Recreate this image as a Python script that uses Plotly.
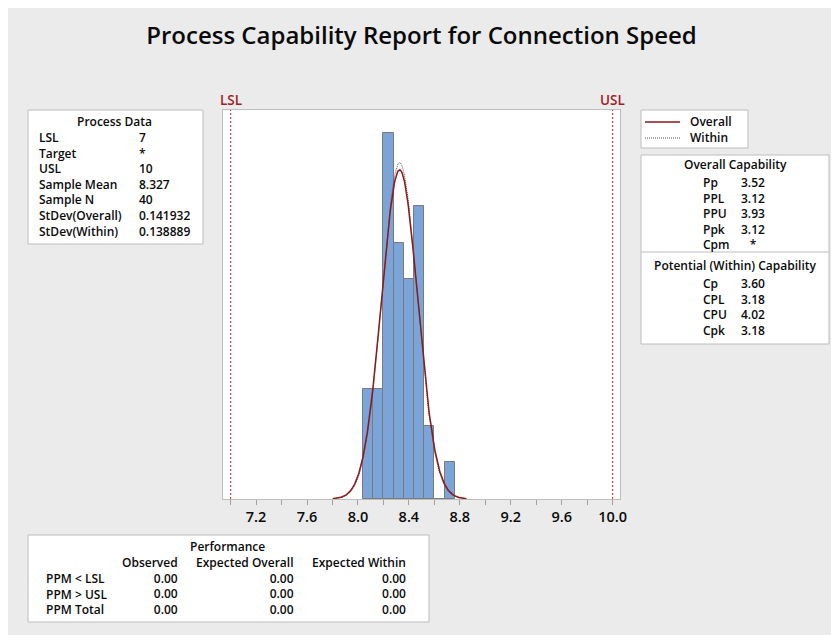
import numpy as np
import plotly.graph_objects as go

# ---------------- data ----------------
bin_left = [8.04, 8.12, 8.20, 8.28, 8.36, 8.44, 8.52, 8.60, 8.68]
bin_width = 0.08
counts = [3, 3, 10, 7, 6, 8, 2, 0, 1]

lsl, usl = 7.0, 10.0
sample_mean = 8.327
sample_n = 40
sd_overall = 0.141932
sd_within = 0.138889

tick_vals = [7.0, 7.2, 7.4, 7.6, 7.8, 8.0, 8.2, 8.4, 8.6, 8.8, 9.0, 9.2, 9.4, 9.6, 9.8, 10.0]
tick_text = ["", "7.2", "", "7.6", "", "8.0", "", "8.4", "", "8.8", "", "9.2", "", "9.6", "", "10.0"]

process_labels = ["LSL", "Target", "USL", "Sample Mean", "Sample N", "StDev(Overall)", "StDev(Within)"]
process_values = ["7", "*", "10", "8.327", "40", "0.141932", "0.138889"]

overall_labels = ["Pp", "PPL", "PPU", "Ppk", "Cpm"]
overall_values = ["3.52", "3.12", "3.93", "3.12", "*"]
within_labels = ["Cp", "CPL", "CPU", "Cpk"]
within_values = ["3.60", "3.18", "4.02", "3.18"]

perf_cols = ["Observed", "Expected Overall", "Expected Within"]
perf_rows = ["PPM < LSL", "PPM > USL", "PPM Total"]
perf_values = [["0.00", "0.00", "0.00"],
               ["0.00", "0.00", "0.00"],
               ["0.00", "0.00", "0.00"]]

# ---------------- geometry helpers (pixel -> paper) ----------------
OFF = 8                      # page body margin
W, H = 839 - OFF, 635 - OFF
L, R, T, B = 223, 620, 110, 499   # plot area in screen pixels


def fx(px):
    return (px - L) / (R - L)


def fy(py):
    return (B - py) / (B - T)


FONT = "Open Sans"
TXT = "#0A0A0A"
BORDER = "#BDBDBD"
WT = 600

fig = go.Figure()

# histogram bars
centers = [b + bin_width / 2 for b in bin_left]
fig.add_trace(go.Bar(x=centers, y=counts, width=[bin_width] * len(counts),
                     marker=dict(color="#7BA5D9", line=dict(color="#7A7A7A", width=1)),
                     showlegend=False, hoverinfo="x+y"))


# fitted normal curves (scaled to counts)
def curve(sd):
    xs = np.linspace(sample_mean - 3.7 * sd, sample_mean + 3.7 * sd, 300)
    ys = sample_n * bin_width / (sd * np.sqrt(2 * np.pi)) * np.exp(-0.5 * ((xs - sample_mean) / sd) ** 2)
    return xs, ys


xw, yw = curve(sd_within)
fig.add_trace(go.Scatter(x=xw, y=yw, mode="lines", line=dict(color="#555555", width=1, dash="1px,1px"),
                         showlegend=False, hoverinfo="skip"))
xo, yo = curve(sd_overall)
fig.add_trace(go.Scatter(x=xo, y=yo, mode="lines", line=dict(color="#8B1A1A", width=1.5),
                         showlegend=False, hoverinfo="skip"))

shapes = []
annots = []

# spec limit lines
for v in (lsl, usl):
    shapes.append(dict(type="line", xref="x", yref="paper", x0=v, x1=v, y0=0, y1=1,
                       line=dict(color="#E0262B", width=1, dash="2px,2px")))
for v, lab in ((lsl, "LSL"), (usl, "USL")):
    annots.append(dict(x=v, y=fy(100), xref="x", yref="paper", text=lab, showarrow=False,
                       xanchor="center", yanchor="middle",
                       font=dict(family=FONT, size=13.5, color="#A01C24", weight=WT)))


def box(x0, y0, x1, y1):
    shapes.append(dict(type="rect", xref="paper", yref="paper", x0=fx(x0), x1=fx(x1), y0=fy(y1), y1=fy(y0),
                       fillcolor="white", line=dict(color=BORDER, width=1), layer="below"))


def txt(px, py, lines, anchor="left", align=None, size=12):
    if isinstance(lines, str):
        lines = [lines]
    annots.append(dict(x=fx(px), y=fy(py), xref="paper", yref="paper", text="<br>".join(lines),
                       showarrow=False, xanchor=anchor, yanchor="middle", borderpad=0,
                       align=align or anchor,
                       font=dict(family=FONT, size=size, color=TXT, weight=WT)))


LH = 15.6  # line height for 12px text

# Process Data box
box(28, 110, 203, 244)
txt(115, 121.5, "Process Data", "center")
mid = 138 + (len(process_labels) - 1) * LH / 2
txt(38, mid, process_labels)
txt(138, mid, process_values)

# legend box
box(641, 110, 748, 148)
shapes.append(dict(type="line", xref="paper", yref="paper", x0=fx(645), x1=fx(680), y0=fy(122), y1=fy(122),
                   line=dict(color="#8B1A1A", width=1.5)))
shapes.append(dict(type="line", xref="paper", yref="paper", x0=fx(645), x1=fx(680), y0=fy(138), y1=fy(138),
                   line=dict(color="#555555", width=1, dash="1px,1px")))
txt(689, 130, ["Overall", "Within"])

# capability box
box(641, 155, 829, 344)
shapes.append(dict(type="line", xref="paper", yref="paper", x0=fx(641), x1=fx(829), y0=fy(252), y1=fy(252),
                   line=dict(color=BORDER, width=1)))
txt(735, 165, "Overall Capability", "center")
mid = 182 + (len(overall_labels) - 1) * LH / 2
txt(702, mid, overall_labels)
txt(740, mid, overall_values, "left", "center")
txt(735, 265, "Potential (Within) Capability", "center")
mid = 284 + (len(within_labels) - 1) * LH / 2
txt(702, mid, within_labels)
txt(740, mid, within_values)

# performance box
box(28, 535, 429, 622)
txt(227, 546, "Performance", "center")
col_right = [179, 295, 407]
mid = 563 + len(perf_rows) * LH / 2
txt(45, 578 + (len(perf_rows) - 1) * LH / 2, perf_rows)
for j, (c, name) in enumerate(zip(col_right, perf_cols)):
    col = [name] + [perf_values[r][j] for r in range(len(perf_rows))]
    txt(c, mid, col, "right")

fig.update_layout(
    width=W, height=H,
    margin=dict(l=L - OFF, r=W - (R - OFF), t=T - OFF, b=H - (B - OFF)),
    paper_bgcolor="#EBEBEB", plot_bgcolor="white",
    title=dict(text="Process Capability Report for Connection Speed", x=0.5, xref="paper",
               xanchor="center", y=1 - (36 - OFF) / H, yanchor="middle",
               font=dict(family=FONT, size=24, color=TXT, weight=WT)),
    shapes=shapes, annotations=annots, bargap=0, showlegend=False,
    xaxis=dict(range=[6.94, 10.058], tickmode="array", tickvals=tick_vals, ticktext=tick_text,
               ticks="outside", ticklen=5, tickcolor="#A0A0A0", showgrid=False, zeroline=False,
               showline=True, linecolor=BORDER, linewidth=1, mirror=True,
               tickfont=dict(family=FONT, size=14.5, color=TXT, weight=WT)),
    yaxis=dict(range=[0, 10.63], showticklabels=False, ticks="", showgrid=False, zeroline=False,
               showline=True, linecolor=BORDER, linewidth=1, mirror=True),
)
fig.write_html("out.html")
